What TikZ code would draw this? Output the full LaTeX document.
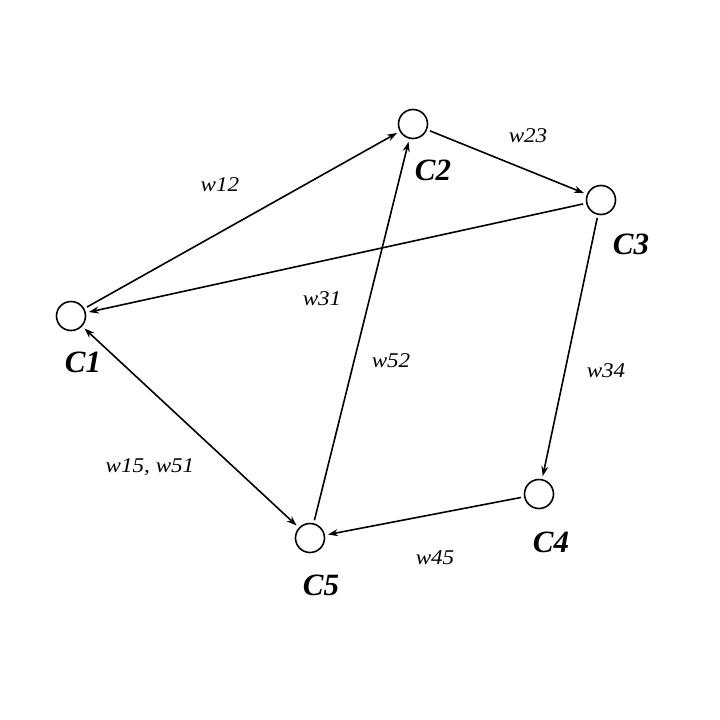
\documentclass[tikz,border=0pt]{standalone}
\usepackage{fontspec}
\setmainfont{Liberation Serif}
\usetikzlibrary{arrows.meta}
\begin{document}
\begin{tikzpicture}[x=1pt,y=-1pt,
  cnode/.style={circle,draw,line width=1.6pt,minimum size=29pt,inner sep=0pt},
  clabel/.style={font=\fontsize{31}{31}\selectfont\bfseries\itshape,inner sep=0pt},
  wlabel/.style={font=\fontsize{21}{21}\selectfont\itshape,inner sep=0pt,xscale=1.1},
  edge/.style={line width=1.6pt,-{Stealth[length=10pt,width=7pt]},shorten >=3pt,shorten <=3pt},
  dedge/.style={line width=1.6pt,{Stealth[length=10pt,width=7pt]}-{Stealth[length=10pt,width=7pt]},shorten >=3pt,shorten <=3pt}]
\useasboundingbox (0,0) rectangle (720,720);
\node[cnode] (c1) at (71,316) {};
\node[cnode] (c2) at (413,124) {};
\node[cnode] (c3) at (601,200) {};
\node[cnode] (c4) at (539,494) {};
\node[cnode] (c5) at (310,538) {};
\node[clabel] (l1) at (83,362) {C1};
\node[clabel] (l2) at (433,170) {C2};
\node[clabel] (l3) at (631,244) {C3};
\node[clabel] (l4) at (551,542) {C4};
\node[clabel] (l5) at (321,585) {C5};
\node[wlabel] (w12) at (220,185) {w12};
\node[wlabel] (w23) at (528,136) {w23};
\node[wlabel] (w31) at (322,299) {w31};
\node[wlabel] (w52) at (391,361) {w52};
\node[wlabel] (w34) at (606,371) {w34};
\node[wlabel] (w15) at (150,467) {w15, w51};
\node[wlabel] (w45) at (435,558) {w45};
\draw[edge] (c1) -- (c2);
\draw[edge] (c2) -- (c3);
\draw[edge] (c3) -- (c1);
\draw[edge] (c3) -- (c4);
\draw[edge] (c4) -- (c5);
\draw[edge] (c5) -- (c2);
\draw[dedge] (c1) -- (c5);
\end{tikzpicture}
\end{document}
